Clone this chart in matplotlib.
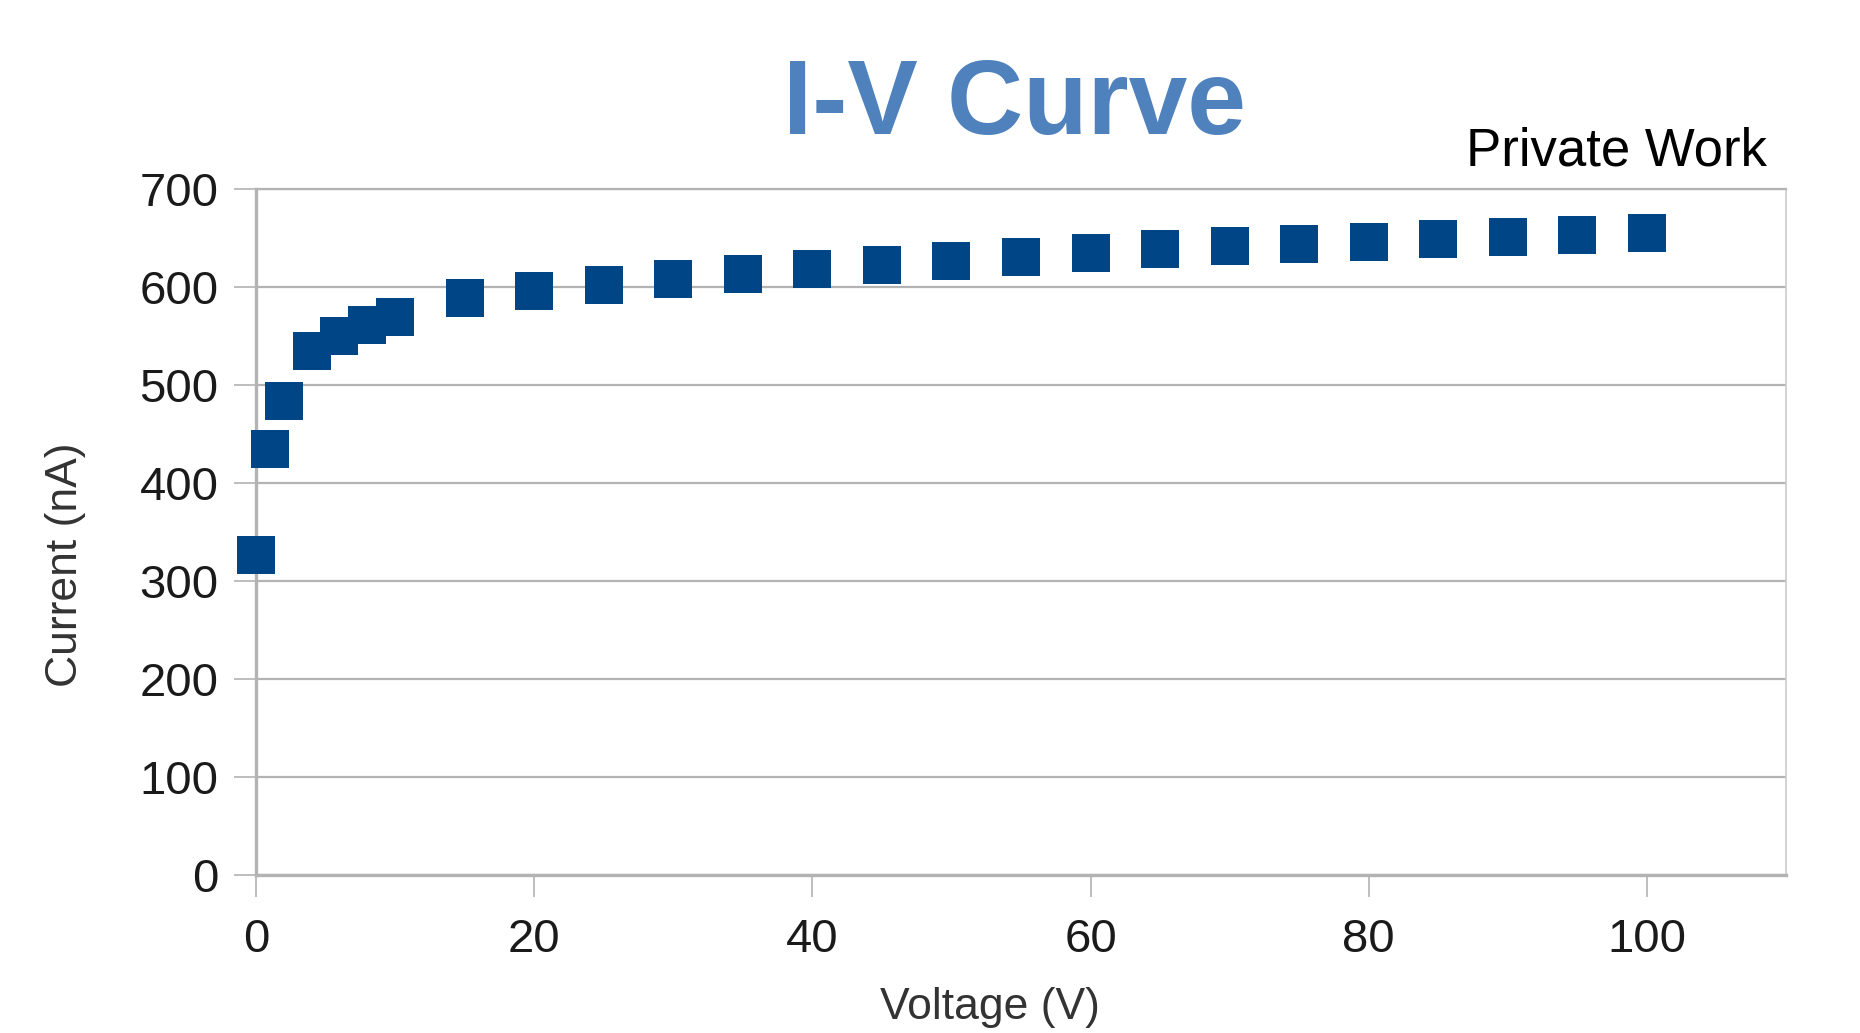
import matplotlib
matplotlib.use("Agg")
import matplotlib.pyplot as plt

# measured I-V points
voltage = [0, 1, 2, 4, 6, 8, 10, 15, 20, 25, 30, 35, 40, 45, 50,
           55, 60, 65, 70, 75, 80, 85, 90, 95, 100]
current = [326, 434, 483, 534, 550, 561, 569, 588, 596, 602, 608, 613, 618, 622, 626,
           630, 634, 638, 641, 644, 646, 649, 651, 653, 655]

x_ticks = [0, 20, 40, 60, 80, 100]
y_ticks = [0, 100, 200, 300, 400, 500, 600, 700]

plt.rcParams['font.family'] = ['Liberation Sans', 'DejaVu Sans']

W, H = 1860, 1033
fig = plt.figure(figsize=(W / 100, H / 100), dpi=100)
ax = fig.add_axes([256 / W, 1 - 875 / H, (1786 - 256) / W, (875 - 188.6) / H])

grid_col = '#b3b3b3'
ax.set_xlim(0, 110)
ax.set_ylim(0, 700)
ax.set_xticks(x_ticks)
ax.set_yticks(y_ticks)
ax.yaxis.grid(True, color=grid_col, linewidth=1.6)
ax.set_axisbelow(True)

for side in ['left', 'bottom']:
    ax.spines[side].set_color(grid_col)
    ax.spines[side].set_linewidth(2.4)
ax.spines['right'].set_color('#cccccc')
ax.spines['right'].set_linewidth(1.2)
ax.spines['top'].set_color(grid_col)
ax.spines['top'].set_linewidth(1.6)

ax.tick_params(axis='both', length=16, width=1.2, color=grid_col,
               labelsize=34, labelcolor='#1a1a1a')
ax.tick_params(axis='x', pad=15)
ax.tick_params(axis='y', pad=11)

ax.plot(voltage, current, linestyle='none', marker='s', markersize=27,
        color='#004586', markeredgewidth=0, clip_on=False, zorder=5)

fig.text(1014 / W, 1 - 134 / H, 'I-V Curve', fontsize=76, fontweight='bold',
         color='#4f81bd', ha='center', va='baseline')
fig.text(1466 / W, 1 - 165 / H, 'Private Work', fontsize=38, color='black',
         ha='left', va='baseline')
fig.text(990 / W, 1 - 1007 / H, 'Voltage (V)', fontsize=32, color='#333333',
         ha='center', va='center')
fig.text(65 / W, 1 - 565 / H, 'Current (nA)', fontsize=32, color='#333333',
         ha='center', va='center', rotation=90)

fig.savefig('out.png', dpi=100)
